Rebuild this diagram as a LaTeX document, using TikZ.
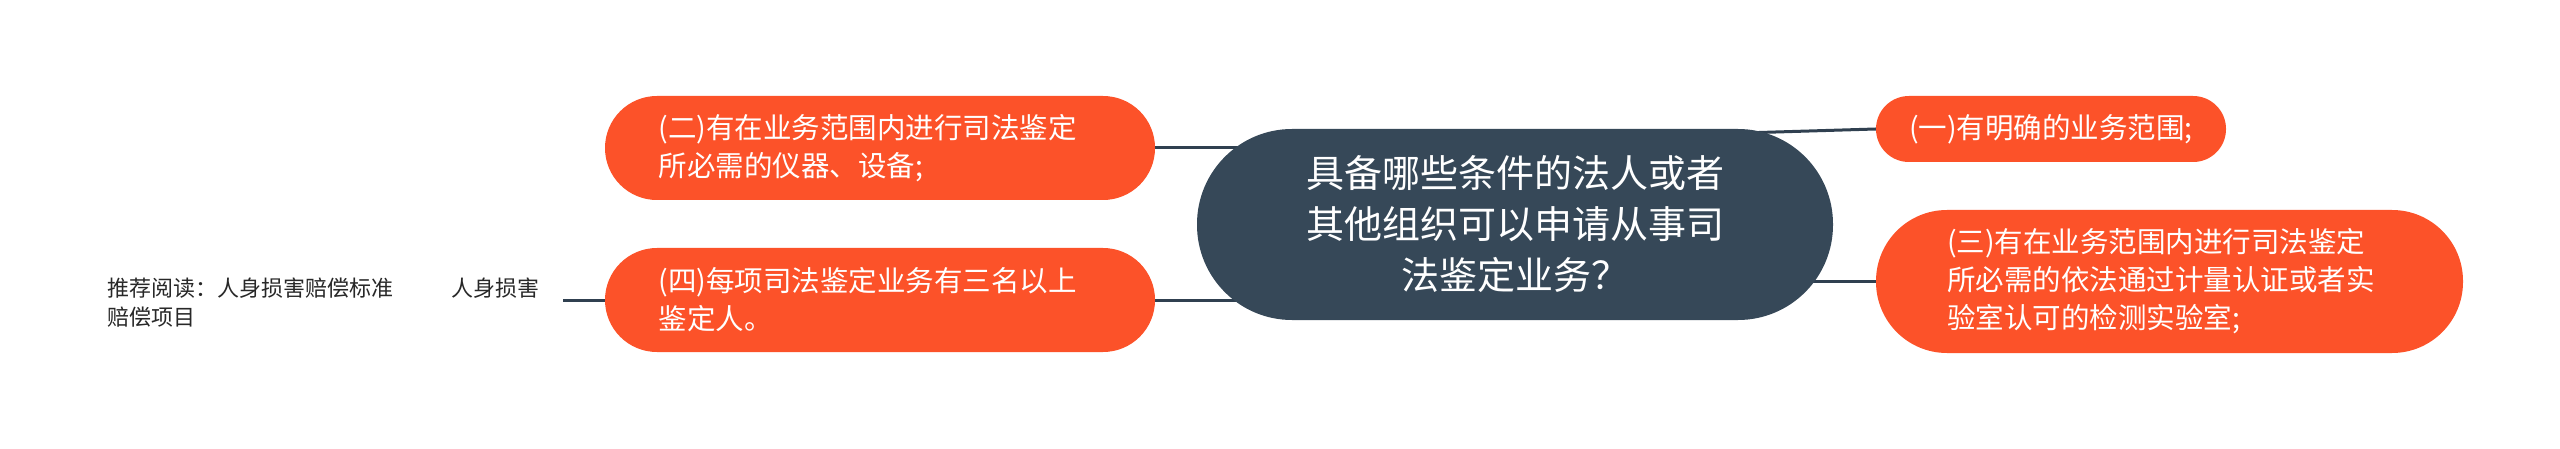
\documentclass[tikz,border=0pt]{standalone}
\usepackage{fontspec}
\newfontfamily\cjk{Noto Sans CJK SC}
\usetikzlibrary{backgrounds}
\definecolor{orng}{RGB}{252,82,41}
\definecolor{slate}{RGB}{54,72,88}
\definecolor{connc}{RGB}{48,64,80}
\definecolor{txtgray}{RGB}{40,40,40}
\begin{document}
\begin{tikzpicture}[x=1pt,y=-1pt,
  topic/.style={fill=slate, text=white, rounded corners=95pt, minimum width=636pt, minimum height=191pt, inner sep=0pt, align=center, font=\cjk\fontsize{38pt}{51pt}\selectfont},
  sub/.style={fill=orng, text=white, inner sep=0pt, align=left, font=\cjk\fontsize{28.5pt}{38pt}\selectfont},
  link/.style={draw=connc, line width=3pt},
  note/.style={text=txtgray, inner sep=0pt, align=left, font=\cjk\fontsize{22pt}{29pt}\selectfont},
]
\useasboundingbox (0,0) rectangle (2560,449);
\node[topic] (c) at (1515,224.5) {具备哪些条件的法人或者\\其他组织可以申请从事司\\法鉴定业务？};
\node[sub, minimum width=550pt, minimum height=104pt, rounded corners=51.9pt, text width=443pt] (n2) at (880,148) {(二)有在业务范围内进行司法鉴定\\所必需的仪器、设备;};
\node[sub, minimum width=550pt, minimum height=104pt, rounded corners=51.9pt, text width=443pt] (n4) at (880,300) {(四)每项司法鉴定业务有三名以上\\鉴定人。};
\node[sub, minimum width=350pt, minimum height=66pt, rounded corners=32.9pt, align=center] (n1) at (2051,129) {(一)有明确的业务范围;};
\node[sub, minimum width=587pt, minimum height=143pt, rounded corners=71pt, text width=445pt] (n3) at (2169.5,281.5) {(三)有在业务范围内进行司法鉴定\\所必需的依法通过计量认证或者实\\验室认可的检测实验室;};
\node[note, anchor=west] (lt) at (107,302.5) {推荐阅读：人身损害赔偿标准\hspace{58pt}人身损害\\赔偿项目};
\begin{pgfonlayer}{background}
\draw[link] (n2.east) -- (n2.east -| c.center);
\draw[link] (n4.east) -- (n4.east -| c.center);
\draw[link] (n3.west) -- (n3.west -| c.center);
\draw[link] (n1.west) -- ([xshift=-200pt,yshift=-6pt]n1.west);
\draw[link] (n4.west) -- ++(-42,0);
\end{pgfonlayer}
\end{tikzpicture}
\end{document}
